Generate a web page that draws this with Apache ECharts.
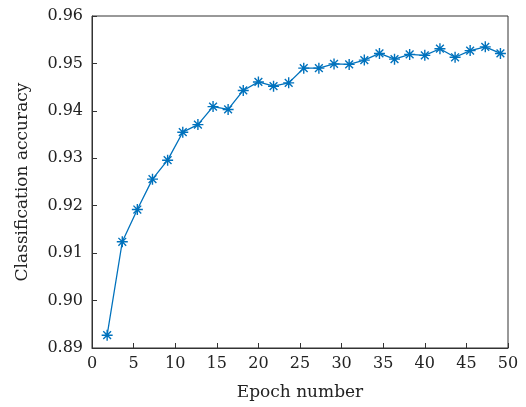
<!DOCTYPE html>
<html>
<head>
<meta charset="utf-8">
<script src="https://cdn.jsdelivr.net/npm/echarts@6/dist/echarts.min.js"></script>
<style>html,body{margin:0;padding:0;background:#fff}#c{width:526px;height:407px}</style>
</head>
<body>
<div id="c"></div>
<script>
const epochs = [1.82, 3.64, 5.45, 7.27, 9.09, 10.91, 12.73, 14.55, 16.36, 18.18, 20.00, 21.82, 23.64, 25.45, 27.27, 29.09, 30.91, 32.73, 34.55, 36.36, 38.18, 40.00, 41.82, 43.64, 45.45, 47.27, 49.09];
const accuracy = [0.8927, 0.9124, 0.9192, 0.9256, 0.9296, 0.9355, 0.9371, 0.9409, 0.9403, 0.9443, 0.9461, 0.9452, 0.9459, 0.9490, 0.9490, 0.9499, 0.9498, 0.9507, 0.9521, 0.9509, 0.9519, 0.9517, 0.9531, 0.9513, 0.9527, 0.9535, 0.9521];
const xTicks = [0, 5, 10, 15, 20, 25, 30, 35, 40, 45, 50];
const yTicks = [0.89, 0.90, 0.91, 0.92, 0.93, 0.94, 0.95, 0.96];

const font = 'DejaVu Serif';
const chart = echarts.init(document.getElementById('c'));
chart.setOption({
  animation: false,
  grid: {left: 92, right: 18, top: 16, bottom: 59, show: true, borderColor: '#333', borderWidth: 1},
  xAxis: {
    type: 'value', min: xTicks[0], max: xTicks[xTicks.length - 1], interval: 5,
    name: 'Epoch number', nameLocation: 'middle', nameGap: 36,
    nameTextStyle: {fontFamily: font, fontSize: 17, color: '#222'},
    axisLine: {lineStyle: {color: '#333', width: 1}},
    axisTick: {inside: true, length: 5, lineStyle: {color: '#333'}},
    axisLabel: {fontFamily: font, fontSize: 16, color: '#222', margin: 8},
    splitLine: {show: false}
  },
  yAxis: {
    type: 'value', min: yTicks[0], max: yTicks[yTicks.length - 1], interval: 0.01,
    name: 'Classification accuracy', nameLocation: 'middle', nameGap: 61,
    nameTextStyle: {fontFamily: font, fontSize: 17, color: '#222'},
    axisLine: {show: true, lineStyle: {color: '#333', width: 1}},
    axisTick: {show: true, inside: true, length: 5, lineStyle: {color: '#333'}},
    axisLabel: {fontFamily: font, fontSize: 16, color: '#222', margin: 9, formatter: v => v.toFixed(2)},
    splitLine: {show: false}
  },
  series: [{
    type: 'line',
    data: epochs.map((x, i) => [x, accuracy[i]]),
    lineStyle: {color: '#0072BD', width: 1.3},
    symbol: 'path://M0,-1L0,1M-1,0L1,0M-0.707,-0.707L0.707,0.707M-0.707,0.707L0.707,-0.707',
    symbolSize: 11,
    showAllSymbol: true,
    itemStyle: {color: 'none', borderColor: '#0072BD', borderWidth: 1.4}
  }]
});
</script>
</body>
</html>
